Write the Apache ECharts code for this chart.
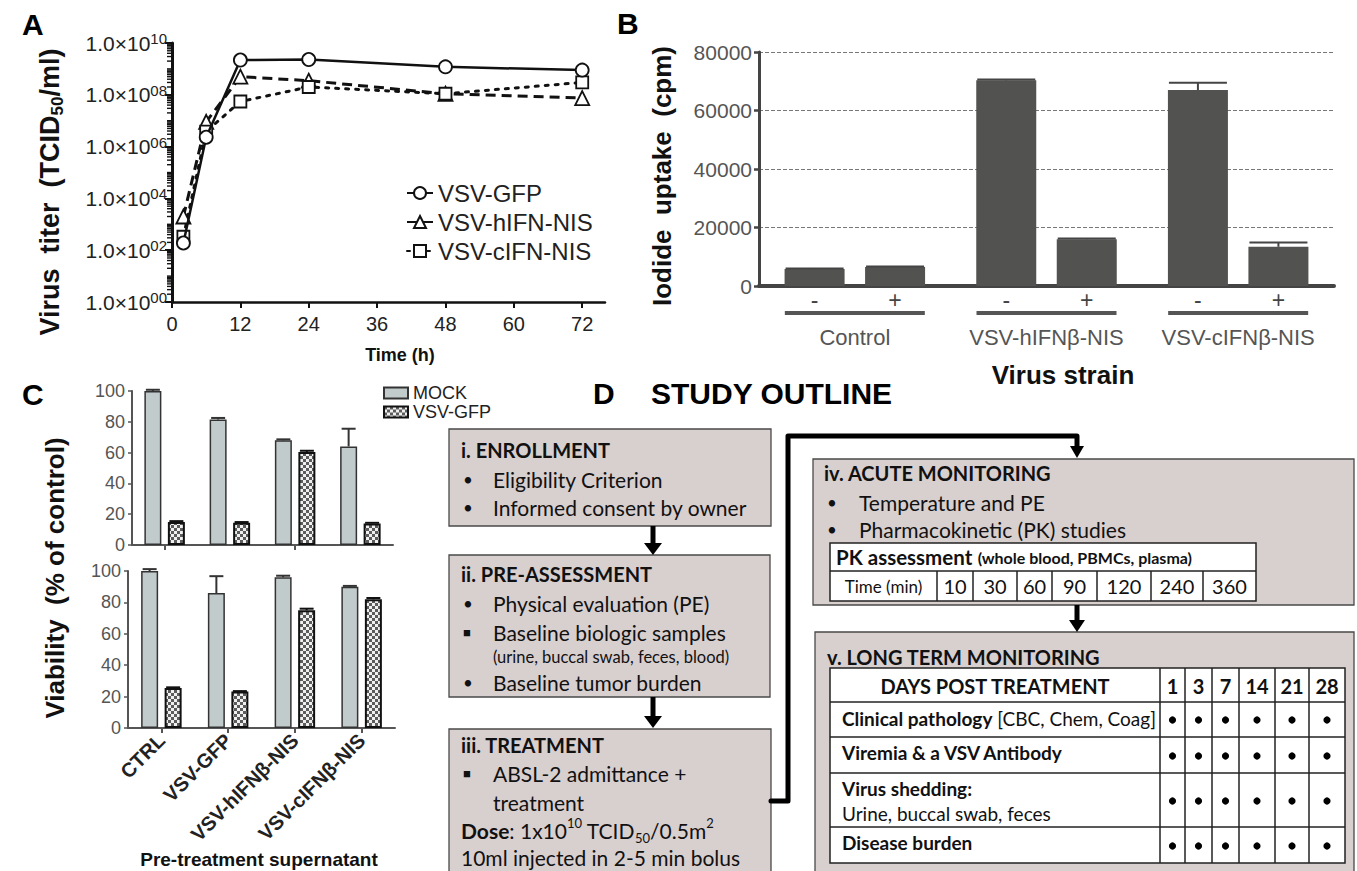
<!DOCTYPE html>
<html>
<head>
<meta charset="utf-8">
<script src="https://cdn.jsdelivr.net/npm/echarts@6/dist/echarts.min.js"></script>
<style>
  html, body { margin: 0; padding: 0; background: #fff; }
  #fig { width: 1357px; height: 871px; }
</style>
</head>
<body>
<div id="fig"></div>
<script>
// ---------- Panel A: virus growth (TCID50/ml) over time ----------
const timeHours = [2, 6, 12, 24, 48, 72];
const titerGFP  = [1.9e2, 2.3e6, 2.2e9, 2.3e9, 1.2e9, 9.0e8];
const titerHIFN = [2.0e3, 9.0e6, 5.0e8, 3.5e8, 1.1e8, 7.5e7];
const titerCIFN = [3.3e2, 3.8e6, 5.5e7, 2.0e8, 1.1e8, 3.0e8];
const titerTicks = [1, 1e2, 1e4, 1e6, 1e8, 1e10];
const timeTicks = [0, 12, 24, 36, 48, 60, 72];

// ---------- Panel B: iodide uptake ----------
const strains = ['Control', 'VSV-hIFNβ-NIS', 'VSV-cIFNβ-NIS'];
const uptakeMinus    = [5800, 70300, 67000];
const uptakeMinusErr = [150, 300, 2500];
const uptakePlus     = [6500, 16000, 13400];
const uptakePlusErr  = [150, 200, 1500];

// ---------- Panel C: viability after pre-treatment ----------
const supernatants = ['CTRL', 'VSV-GFP', 'VSV-hIFNβ-NIS', 'VSV-cIFNβ-NIS'];
const viabMockTop       = [100, 81.5, 68, 64];
const viabMockTopErr    = [0.8, 1.0, 0.6, 11.5];
const viabGfpTop        = [15, 14.5, 60.4, 14];
const viabGfpTopErr     = [0.5, 0.4, 0.8, 0.4];
const viabMockBottom    = [100, 86, 96, 90];
const viabMockBottomErr = [1.2, 10.7, 1.0, 0.5];
const viabGfpBottom     = [25.5, 23.2, 75, 82];
const viabGfpBottomErr  = [0.4, 0.3, 1.0, 0.8];

// ---------- Panel D: study outline tables ----------
const pkTimes = [10, 30, 60, 90, 120, 240, 360];
const followUpDays = [1, 3, 7, 14, 21, 28];

// ---------------------------------------------------------------
const ARIAL = "'Liberation Sans', Arial, Helvetica, sans-serif";
const DFONT = "Lato, 'Open Sans', sans-serif";

// log-axis minor tick positions: 2..9 x 10^d, plus the odd decades
const titerMinorTicks = [];
for (let d = 0; d < 10; d++) {
  for (let k = 2; k <= 9; k++) titerMinorTicks.push(k * Math.pow(10, d));
  if (d % 2 === 1) titerMinorTicks.push(Math.pow(10, d));
}

// checkered fill for infected bars
const checkerFill = (() => {
  const c = document.createElement('canvas');
  c.width = 6; c.height = 6;
  const g = c.getContext('2d');
  g.fillStyle = '#f0f0f0'; g.fillRect(0, 0, 6, 6);
  g.fillStyle = '#5c5c5c'; g.fillRect(0, 0, 3, 3); g.fillRect(3, 3, 3, 3);
  return { image: c.toDataURL(), repeat: 'repeat' };
})();

function sup(n) { return String(n).padStart(2, '0'); }

// upward error bars drawn next to grouped bars
function errorSeries(xAxisIndex, yAxisIndex, values, errors, offset, capWidth, lineWidth, color) {
  return {
    type: 'custom', xAxisIndex, yAxisIndex, z: 5, silent: true,
    data: values.map((v, i) => [i, v, v + errors[i]]),
    encode: { x: 0, y: [1, 2] },
    renderItem(params, api) {
      const base = api.coord([api.value(0), api.value(1)]);
      const top = api.coord([api.value(0), api.value(2)]);
      const x = base[0] + offset;
      return {
        type: 'group',
        children: [
          { type: 'line', shape: { x1: x, y1: base[1], x2: x, y2: top[1] }, style: { stroke: color, lineWidth } },
          { type: 'line', shape: { x1: x - capWidth / 2, y1: top[1], x2: x + capWidth / 2, y2: top[1] }, style: { stroke: color, lineWidth } }
        ]
      };
    }
  };
}

// ---------- graphic: titles, panel letters, study outline ----------
const G = [];
function txt(x, y, str, o) {
  o = o || {};
  G.push({
    type: 'text', silent: true, x, y, rotation: o.rot || 0, z: 20,
    style: {
      text: str, fill: o.color || '#111', fontSize: o.size || 21,
      fontWeight: o.weight || 'normal', fontFamily: o.family || DFONT,
      align: o.align || 'left', verticalAlign: 'middle',
      lineHeight: o.lh, rich: o.rich
    }
  });
}
function box(x, y, w, h, fill, stroke, lw) {
  G.push({ type: 'rect', silent: true, z: 10, shape: { x, y, width: w, height: h }, style: { fill, stroke, lineWidth: lw } });
}
function seg(x1, y1, x2, y2, lw, color) {
  G.push({ type: 'line', silent: true, z: 15, shape: { x1, y1, x2, y2 }, style: { stroke: color || '#111', lineWidth: lw } });
}
function path(points, lw) {
  G.push({ type: 'polyline', silent: true, z: 15, shape: { points }, style: { stroke: '#000', lineWidth: lw, fill: null, lineJoin: 'round', lineCap: 'round' } });
}
function arrowDown(x, y0, y1, half) {
  seg(x, y0, x, y1 - 10, 5, '#000');
  G.push({ type: 'polygon', silent: true, z: 15, shape: { points: [[x - half, y1 - 12], [x + half, y1 - 12], [x, y1]] }, style: { fill: '#000' } });
}

// panel letters
txt(22, 24, 'A', { size: 30, weight: 'bold', family: ARIAL, color: '#000' });
txt(617, 23, 'B', { size: 30, weight: 'bold', family: ARIAL, color: '#000' });
txt(22, 394, 'C', { size: 30, weight: 'bold', family: ARIAL, color: '#000' });
txt(593, 393, 'D', { size: 30, weight: 'bold', family: ARIAL, color: '#000' });
txt(651, 393, 'STUDY OUTLINE', { size: 30, weight: 'bold', family: ARIAL, color: '#000' });

// axis titles
txt(50, 192, 'Virus  titer  (TCID{sub|50}/ml)', {
  rot: Math.PI / 2, align: 'center', size: 27, weight: 'bold', family: ARIAL, lh: 32,
  rich: { sub: { fontSize: 17, fontWeight: 'bold', fontFamily: ARIAL, lineHeight: 8, verticalAlign: 'bottom', fill: '#111' } }
});
txt(400, 355, 'Time (h)', { align: 'center', size: 18, weight: 'bold', family: ARIAL });
txt(662, 176, 'Iodide  uptake  (cpm)', { rot: Math.PI / 2, align: 'center', size: 26, weight: 'bold', family: ARIAL });
txt(1063, 375, 'Virus strain', { align: 'center', size: 26, weight: 'bold', family: ARIAL });
txt(55, 578, 'Viability  (% of control)', { rot: Math.PI / 2, align: 'center', size: 26, weight: 'bold', family: ARIAL });
txt(259, 859, 'Pre-treatment supernatant', { align: 'center', size: 19, weight: 'bold', family: ARIAL });

// study outline boxes
const BOX_FILL = '#d8cfcf', BOX_LINE = '#4a4a4a';
box(449, 429, 322, 97, BOX_FILL, BOX_LINE, 1.3);
box(449, 555, 321, 142, BOX_FILL, BOX_LINE, 1.3);
box(449, 729, 322, 200, BOX_FILL, BOX_LINE, 1.3);
box(813, 459, 541, 146, BOX_FILL, BOX_LINE, 1.3);
box(815, 632, 539, 300, BOX_FILL, BOX_LINE, 1.3);

arrowDown(653, 526, 555, 9);
arrowDown(653, 697, 728, 9);
path([[771, 801], [788, 801], [788, 436], [1077, 436], [1077, 448]], 5);
G.push({ type: 'polygon', silent: true, z: 15, shape: { points: [[1070, 446], [1084, 446], [1077, 458]] }, style: { fill: '#000' } });
arrowDown(1077, 605, 632, 8);

const bulletX = 463, itemX = 493;
function item(y, label, mark) {
  txt(bulletX, y, mark || '•', { size: mark ? 13 : 17 });
  txt(itemX, y, label);
}
txt(461, 450, 'i. ENROLLMENT', { weight: 'bold', size: 20 });
item(479, 'Eligibility Criterion');
item(507, 'Informed consent by owner');

txt(461, 574, 'ii. PRE-ASSESSMENT', { weight: 'bold', size: 20 });
item(603, 'Physical evaluation (PE)');
item(632, 'Baseline biologic samples', '■');
txt(itemX, 657, '(urine, buccal swab, feces, blood)', { size: 16.5 });
item(682, 'Baseline tumor burden');

txt(461, 745, 'iii. TREATMENT', { weight: 'bold', size: 20 });
item(773, 'ABSL-2 admittance +', '■');
txt(itemX, 802, 'treatment');
txt(461, 830, '{b|Dose}: 1x10{p|10} TCID{s|50}/0.5m{p|2}', {
  lh: 28,
  rich: {
    b: { fontWeight: 'bold', fontSize: 21, fontFamily: DFONT, fill: '#111' },
    p: { fontSize: 13, fontFamily: DFONT, lineHeight: 15, verticalAlign: 'top', fill: '#111' },
    s: { fontSize: 13, fontFamily: DFONT, lineHeight: 8, verticalAlign: 'bottom', fill: '#111' }
  }
});
txt(461, 857, '10ml injected in 2-5 min bolus');

// acute monitoring
txt(824, 473, 'iv. ACUTE MONITORING', { weight: 'bold', size: 20 });
txt(827, 502, '•', { size: 17 }); txt(859, 502, 'Temperature and PE');
txt(827, 529, '•', { size: 17 }); txt(859, 529, 'Pharmacokinetic (PK) studies');

// PK table
const pkEdges = [830, 937, 973, 1017, 1052, 1097, 1151, 1203, 1256];
box(830, 543, 426, 58, '#fff', '#222', 1.5);
seg(830, 571, 1256, 571, 1.5, '#222');
for (let i = 1; i < pkEdges.length - 1; i++) seg(pkEdges[i], 571, pkEdges[i], 601, 1.5, '#222');
txt(836, 557, '{b|PK assessment} {s|(whole blood, PBMCs, plasma)}', {
  rich: {
    b: { fontWeight: 'bold', fontSize: 20.5, fontFamily: DFONT, fill: '#111' },
    s: { fontWeight: 'bold', fontSize: 16, fontFamily: DFONT, fill: '#111' }
  }
});
txt((pkEdges[0] + pkEdges[1]) / 2, 586, 'Time (min)', { size: 17, align: 'center' });
pkTimes.forEach((t, i) => txt((pkEdges[i + 1] + pkEdges[i + 2]) / 2, 586, String(t), { size: 20, align: 'center' }));

// long-term monitoring
txt(827, 657, 'v. LONG TERM MONITORING', { weight: 'bold', size: 20 });
const ltCols = [830, 1160, 1185, 1212, 1239, 1275, 1309, 1345];
const ltRows = [668, 702, 737, 773, 827, 863];
box(830, 668, 515, 195, '#fff', '#222', 1.5);
for (let r = 1; r < ltRows.length - 1; r++) seg(830, ltRows[r], 1345, ltRows[r], 1.5, '#222');
for (let c = 1; c < ltCols.length - 1; c++) seg(ltCols[c], 668, ltCols[c], 863, 1.5, '#222');
txt((ltCols[0] + ltCols[1]) / 2, 686, 'DAYS POST TREATMENT', { weight: 'bold', size: 20, align: 'center' });
followUpDays.forEach((d, i) => txt((ltCols[i + 1] + ltCols[i + 2]) / 2, 686, String(d), { weight: 'bold', size: 20, align: 'center' }));
txt(842, 718, '{b|Clinical pathology} [CBC, Chem, Coag]', {
  size: 19,
  rich: { b: { fontWeight: 'bold', fontSize: 19, fontFamily: DFONT, fill: '#111' } }
});
txt(842, 752, 'Viremia & a VSV Antibody', { weight: 'bold', size: 19 });
txt(842, 788, 'Virus shedding:', { weight: 'bold', size: 19 });
txt(842, 813, 'Urine, buccal swab, feces', { size: 19 });
txt(842, 842, 'Disease burden', { weight: 'bold', size: 19 });
const dotRowsY = [720, 756, 801, 846];
dotRowsY.forEach(y => {
  followUpDays.forEach((d, i) => {
    G.push({ type: 'circle', silent: true, z: 20, shape: { cx: (ltCols[i + 1] + ltCols[i + 2]) / 2, cy: y, r: 3.6 }, style: { fill: '#000' } });
  });
});

// ---------------------------------------------------------------
const B_BAR = 60, B_GAP = 20.5;
const C_BAR = 17, C_GAP = 6.5;

const option = {
  animation: false,
  backgroundColor: '#fff',
  textStyle: { fontFamily: ARIAL },
  grid: [
    { left: 172, top: 43, width: 433, height: 259 },
    { left: 759, top: 52, width: 575, height: 234 },
    { left: 132, top: 391, width: 261, height: 154 },
    { left: 128, top: 571, width: 267, height: 157 }
  ].map(g => Object.assign({ containLabel: false, outerBoundsMode: 'none' }, g)),
  xAxis: [
    {
      type: 'value', gridIndex: 0, min: 0, max: 76, interval: 12,
      axisLine: { show: true, lineStyle: { color: '#111', width: 2.5 } },
      axisTick: { show: true, customValues: timeTicks, length: 6, lineStyle: { color: '#111', width: 2 } },
      axisLabel: { customValues: timeTicks, fontSize: 20, color: '#222', margin: 12 },
      splitLine: { show: false }
    },
    {
      type: 'category', gridIndex: 1, data: strains,
      axisLine: { show: true, lineStyle: { color: '#444', width: 4 } },
      axisTick: { show: false },
      axisLabel: {
        margin: 25, interval: 0,
        formatter: v => '{u|}\n{n|' + v + '}',
        rich: {
          u: { width: 140, height: 4, lineHeight: 4, backgroundColor: '#555' },
          n: { fontSize: 22, lineHeight: 44, color: '#555', fontFamily: ARIAL }
        }
      },
      splitLine: { show: false }
    },
    {
      type: 'category', gridIndex: 2, data: supernatants,
      axisLine: { show: true, lineStyle: { color: '#555', width: 2 } },
      axisTick: { show: true, alignWithLabel: true, length: 5, lineStyle: { color: '#555', width: 2 } },
      axisLabel: { show: false },
      splitLine: { show: false }
    },
    {
      type: 'category', gridIndex: 3, data: supernatants,
      axisLine: { show: true, lineStyle: { color: '#555', width: 2 } },
      axisTick: { show: true, alignWithLabel: true, length: 5, lineStyle: { color: '#555', width: 2 } },
      axisLabel: { interval: 0, rotate: 45, margin: 9, fontSize: 20, fontWeight: 'bold', color: '#222' },
      splitLine: { show: false }
    }
  ],
  yAxis: [
    {
      type: 'log', logBase: 10, gridIndex: 0, position: 'left', min: 1, max: 1e10, splitNumber: 5,
      axisLine: { show: true, lineStyle: { color: '#111', width: 3 } },
      axisTick: { show: true, customValues: titerTicks, length: 7, lineStyle: { color: '#111', width: 2 } },
      axisLabel: {
        customValues: titerTicks, fontSize: 21, color: '#222', margin: 5, lineHeight: 24,
        formatter: v => '1.0×10{e|' + sup(Math.round(Math.log10(v))) + '}',
        rich: { e: { fontSize: 15, lineHeight: 14, verticalAlign: 'top', color: '#222' } }
      },
      splitLine: { show: false }
    },
    {
      type: 'value', gridIndex: 1, min: 0, max: 80000, interval: 20000,
      axisLine: { show: true, lineStyle: { color: '#444', width: 3 } },
      axisTick: { show: true, length: 5, lineStyle: { color: '#444', width: 2.5 } },
      axisLabel: { fontSize: 21, color: '#555', fontFamily: ARIAL, margin: 7, formatter: v => String(v) },
      splitLine: { show: true, lineStyle: { color: '#777', width: 1, type: [4, 2] } }
    },
    {
      type: 'value', gridIndex: 2, min: 0, max: 100, interval: 20,
      axisLine: { show: true, lineStyle: { color: '#555', width: 2 } },
      axisTick: { show: true, length: 4, lineStyle: { color: '#555', width: 1.5 } },
      axisLabel: { fontSize: 18, color: '#555', margin: 7 },
      splitLine: { show: false }
    },
    {
      type: 'value', gridIndex: 3, min: 0, max: 100, interval: 20,
      axisLine: { show: true, lineStyle: { color: '#555', width: 2 } },
      axisTick: { show: true, length: 4, lineStyle: { color: '#555', width: 1.5 } },
      axisLabel: { fontSize: 18, color: '#555', margin: 7 },
      splitLine: { show: false }
    }
  ],
  legend: [
    {
      data: ['VSV-GFP', 'VSV-hIFN-NIS', 'VSV-cIFN-NIS'],
      orient: 'vertical', left: 401, top: 176, itemWidth: 26, itemHeight: 15, itemGap: 5,
      selectedMode: false, textStyle: { fontSize: 24, color: '#222', fontFamily: ARIAL }
    },
    {
      data: ['MOCK', 'VSV-GFP challenge'],
      formatter: n => n.replace(' challenge', ''),
      orient: 'vertical', left: 378, top: 379, itemWidth: 24, itemHeight: 11, itemGap: 1,
      icon: 'rect', selectedMode: false, textStyle: { fontSize: 18, color: '#222', fontFamily: ARIAL }
    }
  ],
  series: [
    // Panel A: minor log ticks along the titer axis
    {
      type: 'custom', xAxisIndex: 0, yAxisIndex: 0, silent: true, clip: false, z: 2,
      data: titerMinorTicks.map(v => [0, v]),
      renderItem(params, api) {
        const p = api.coord([0, api.value(1)]);
        return { type: 'line', shape: { x1: p[0] - 5, y1: p[1], x2: p[0], y2: p[1] }, style: { stroke: '#111', lineWidth: 1.4 } };
      }
    },
    // Panel A
    {
      type: 'line', name: 'VSV-GFP', xAxisIndex: 0, yAxisIndex: 0, z: 4,
      data: timeHours.map((t, i) => [t, titerGFP[i]]),
      symbol: 'circle', symbolSize: 13,
      lineStyle: { color: '#111', width: 2.5, type: 'solid' },
      itemStyle: { color: '#fff', borderColor: '#111', borderWidth: 1.8 }
    },
    {
      type: 'line', name: 'VSV-hIFN-NIS', xAxisIndex: 0, yAxisIndex: 0, z: 3,
      data: timeHours.map((t, i) => [t, titerHIFN[i]]),
      symbol: 'triangle', symbolSize: 14,
      lineStyle: { color: '#111', width: 3, type: [10, 6] },
      itemStyle: { color: '#fff', borderColor: '#111', borderWidth: 1.8 }
    },
    {
      type: 'line', name: 'VSV-cIFN-NIS', xAxisIndex: 0, yAxisIndex: 0, z: 3,
      data: timeHours.map((t, i) => [t, titerCIFN[i]]),
      symbol: 'rect', symbolSize: 12,
      lineStyle: { color: '#111', width: 3, type: [3, 7], cap: 'round' },
      itemStyle: { color: '#fff', borderColor: '#111', borderWidth: 1.8 }
    },
    // Panel B
    {
      type: 'bar', name: 'minus', xAxisIndex: 1, yAxisIndex: 1, data: uptakeMinus,
      barWidth: B_BAR, barGap: (B_GAP / B_BAR * 100) + '%',
      itemStyle: { color: '#525250' },
      label: { show: true, position: 'bottom', distance: 2, formatter: '-', fontSize: 23, color: '#444' }
    },
    {
      type: 'bar', name: 'plus', xAxisIndex: 1, yAxisIndex: 1, data: uptakePlus,
      barWidth: B_BAR, barGap: (B_GAP / B_BAR * 100) + '%',
      itemStyle: { color: '#525250' },
      label: { show: true, position: 'bottom', distance: 2, formatter: '+', fontSize: 23, color: '#444' }
    },
    errorSeries(1, 1, uptakeMinus, uptakeMinusErr, -(B_BAR + B_GAP) / 2, 58, 2, '#444'),
    errorSeries(1, 1, uptakePlus, uptakePlusErr, (B_BAR + B_GAP) / 2, 58, 2, '#444'),
    // Panel C, upper
    {
      type: 'bar', name: 'MOCK', xAxisIndex: 2, yAxisIndex: 2, data: viabMockTop,
      barWidth: C_BAR, barGap: (C_GAP / C_BAR * 100) + '%',
      itemStyle: { color: '#c2cbcb', borderColor: '#333', borderWidth: 1.5 }
    },
    {
      type: 'bar', name: 'VSV-GFP challenge', xAxisIndex: 2, yAxisIndex: 2, data: viabGfpTop,
      barWidth: C_BAR, barGap: (C_GAP / C_BAR * 100) + '%',
      itemStyle: { color: checkerFill, borderColor: '#111', borderWidth: 2 }
    },
    errorSeries(2, 2, viabMockTop, viabMockTopErr, -(C_BAR + C_GAP) / 2, 14, 2, '#333'),
    errorSeries(2, 2, viabGfpTop, viabGfpTopErr, (C_BAR + C_GAP) / 2, 14, 2, '#111'),
    // Panel C, lower
    {
      type: 'bar', name: 'MOCK', xAxisIndex: 3, yAxisIndex: 3, data: viabMockBottom,
      barWidth: C_BAR, barGap: (C_GAP / C_BAR * 100) + '%',
      itemStyle: { color: '#c2cbcb', borderColor: '#333', borderWidth: 1.5 }
    },
    {
      type: 'bar', name: 'VSV-GFP challenge', xAxisIndex: 3, yAxisIndex: 3, data: viabGfpBottom,
      barWidth: C_BAR, barGap: (C_GAP / C_BAR * 100) + '%',
      itemStyle: { color: checkerFill, borderColor: '#111', borderWidth: 2 }
    },
    errorSeries(3, 3, viabMockBottom, viabMockBottomErr, -(C_BAR + C_GAP) / 2, 14, 2, '#333'),
    errorSeries(3, 3, viabGfpBottom, viabGfpBottomErr, (C_BAR + C_GAP) / 2, 14, 2, '#111')
  ],
  graphic: { elements: G }
};

const chart = echarts.init(document.getElementById('fig'), null, { renderer: 'svg', width: 1357, height: 871 });
chart.setOption(option);
</script>
</body>
</html>
